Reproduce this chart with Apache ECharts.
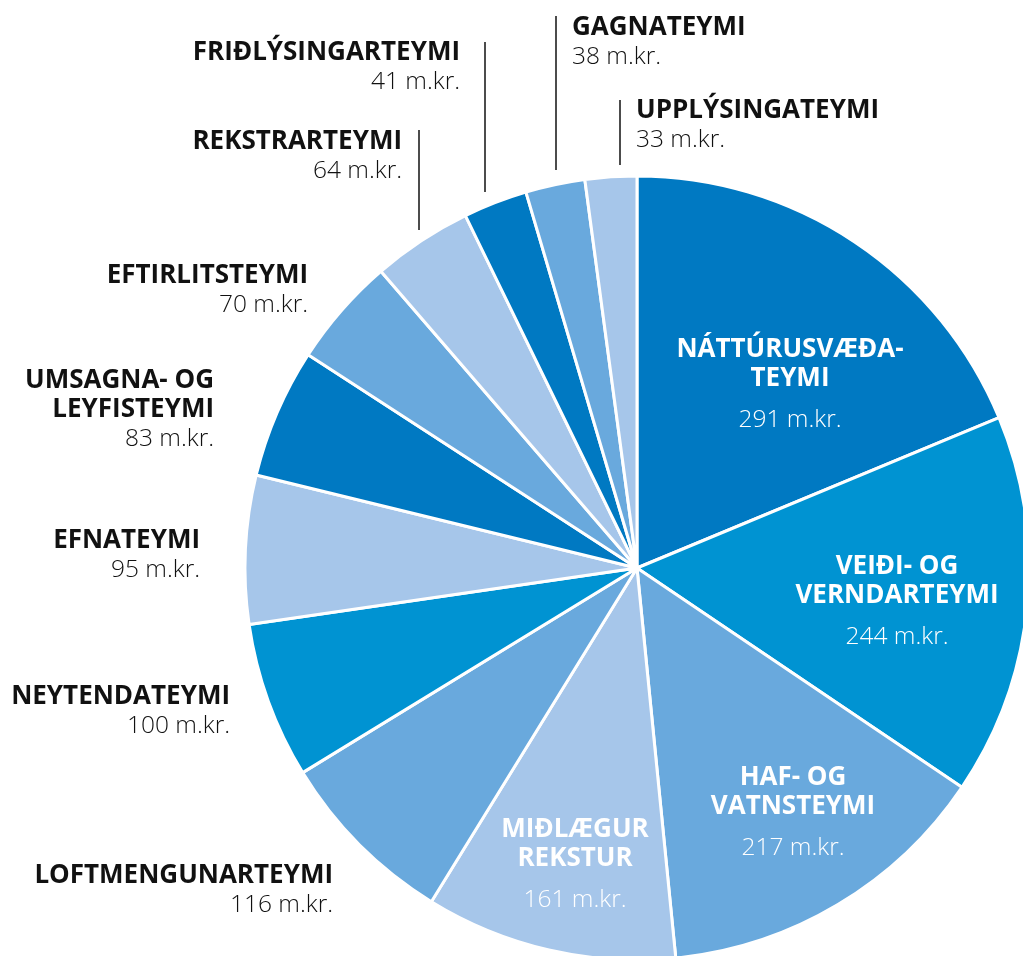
<!DOCTYPE html>
<html>
<head>
<meta charset="utf-8">
<script src="https://cdn.jsdelivr.net/npm/echarts@6/dist/echarts.min.js"></script>
<style>
html,body{margin:0;padding:0;background:#fff;}
#chart{width:1023px;height:956px;}
</style>
</head>
<body>
<div id="chart"></div>
<script>
// ---- data ----
var categories = [
  'NÁTTÚRUSVÆÐA-\nTEYMI',
  'VEIÐI- OG\nVERNDARTEYMI',
  'HAF- OG\nVATNSTEYMI',
  'MIÐLÆGUR\nREKSTUR',
  'LOFTMENGUNARTEYMI',
  'NEYTENDATEYMI',
  'EFNATEYMI',
  'UMSAGNA- OG\nLEYFISTEYMI',
  'EFTIRLITSTEYMI',
  'REKSTRARTEYMI',
  'FRIÐLÝSINGARTEYMI',
  'GAGNATEYMI',
  'UPPLÝSINGATEYMI'
];
var values = [291, 244, 217, 161, 116, 100, 95, 83, 70, 64, 41, 38, 33];
var unit = 'm.kr.';

// ---- styles / layout (not data) ----
var palette = ['#0079c2', '#0093d2', '#69a9dd', '#a6c6ea', '#69a9dd', '#0093d2', '#a6c6ea',
               '#0079c2', '#69a9dd', '#a6c6ea', '#0079c2', '#69a9dd', '#a6c6ea'];
var insideCount = 4;
// label anchor positions: [x, y, align]
var labelPos = [
  [790, 391, 'center'],
  [897, 608, 'center'],
  [793, 819, 'center'],
  [575, 871, 'center'],
  [333, 890.5, 'right'],
  [230, 711.5, 'right'],
  [200, 555.5, 'right'],
  [214, 410, 'right'],
  [308, 290.5, 'right'],
  [402, 156.5, 'right'],
  [460, 67.5, 'right'],
  [572, 42.5, 'left'],
  [636, 125.5, 'left']
];
// leader lines for small slices: index -> [x, yTop, yBottom]
var leaders = {9: [419, 130, 230], 10: [485, 42, 192], 11: [556, 16, 170], 12: [620, 100, 165]};

var FONT = '"Open Sans", "Noto Sans", sans-serif';

var data = categories.map(function (c, i) {
  var inside = i < insideCount;
  var lines = c.split('\n');
  var tag = inside ? 'ni' : 'no';
  var vtag = inside ? 'vi' : 'vo';
  var txt = lines.map(function (l) { return '{' + tag + '|' + l + '}'; }).join('\n') +
            '\n{' + vtag + '|' + values[i] + ' ' + unit + '}';
  return {
    name: c,
    value: values[i],
    itemStyle: {color: palette[i]},
    label: {formatter: txt},
    labelLine: {show: leaders[i] !== undefined}
  };
});

var chart = echarts.init(document.getElementById('chart'), null, {renderer: 'canvas'});
chart.setOption({
  animation: false,
  series: [{
    type: 'pie',
    center: [637, 568],
    radius: [0, 392],
    startAngle: 90,
    clockwise: true,
    avoidLabelOverlap: false,
    data: data,
    itemStyle: {borderColor: '#ffffff', borderWidth: 3},
    label: {
      show: true,
      position: 'outside',
      fontFamily: FONT,
      rich: {
        ni: {fontFamily: FONT, fontWeight: 'bold', fontSize: 26, color: '#ffffff', lineHeight: 29},
        vi: {fontFamily: FONT, fontWeight: 300, fontSize: 24.5, color: '#ffffff', lineHeight: 53},
        no: {fontFamily: FONT, fontWeight: 'bold', fontSize: 26, color: '#111111', lineHeight: 29},
        vo: {fontFamily: FONT, fontWeight: 300, fontSize: 24.5, color: '#111111', lineHeight: 29}
      }
    },
    labelLine: {show: false, lineStyle: {color: '#111111', width: 1.5}},
    emphasis: {disabled: true},
    labelLayout: function (params) {
      var p = labelPos[params.dataIndex];
      var o = {x: p[0], y: p[1], align: p[2], verticalAlign: 'middle'};
      var l = leaders[params.dataIndex];
      if (l) {
        o.labelLinePoints = [[l[0], l[1]], [l[0], (l[1] + l[2]) / 2], [l[0], l[2]]];
      }
      return o;
    }
  }]
});
</script>
</body>
</html>
